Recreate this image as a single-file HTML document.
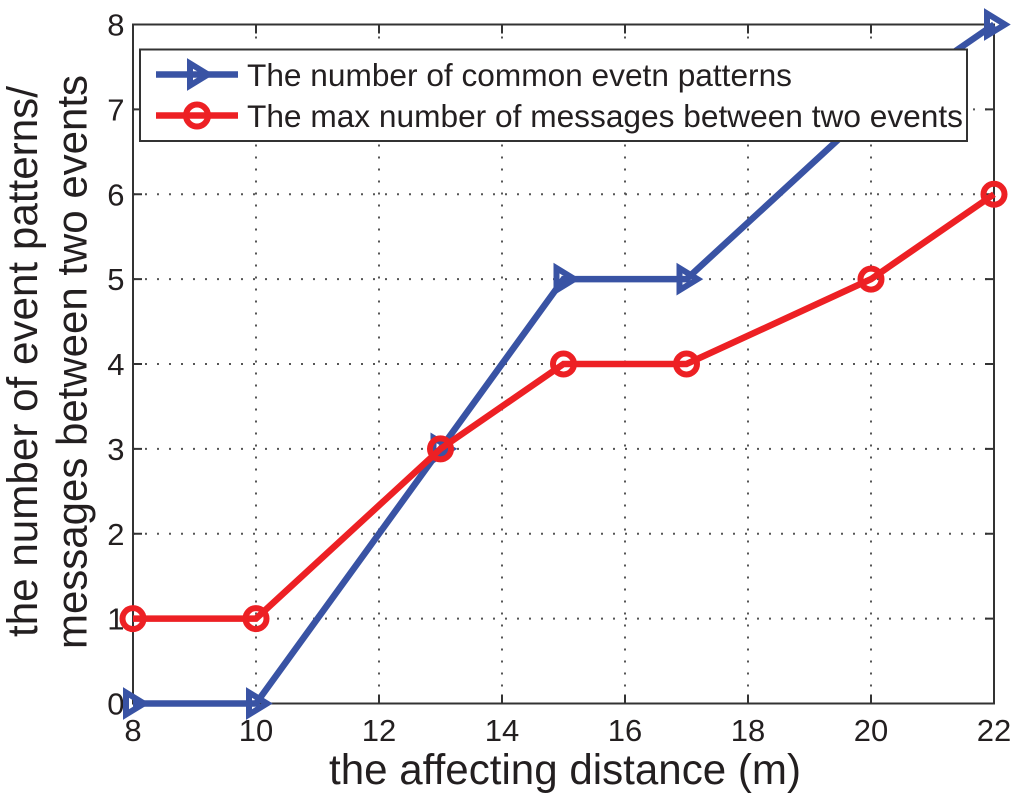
<!DOCTYPE html>
<html>
<head>
<meta charset="utf-8">
<style>
html,body{margin:0;padding:0;background:#fff;}
svg{display:block;}
text{font-family:"Liberation Sans",Arial,sans-serif;fill:#231f20;}
</style>
</head>
<body>
<svg id="chart" xmlns="http://www.w3.org/2000/svg" width="1024" height="801" viewBox="0 0 1024 801">
  <g id="grid"></g>
  <g id="ticks"></g>
  <rect x="133" y="24.5" width="861" height="679" fill="none" stroke="#333" stroke-width="2"/>
  <g id="xlabels"></g>
  <g id="ylabels"></g>
  <g id="series"></g>
  <text x="565" y="784" font-size="42.500" text-anchor="middle" textLength="472" lengthAdjust="spacingAndGlyphs">the affecting distance (m)</text>
  <text transform="translate(37,361.500) rotate(-90)" font-size="42.500" text-anchor="middle" textLength="551" lengthAdjust="spacingAndGlyphs">the number of event patterns/</text>
  <text transform="translate(86.500,362) rotate(-90)" font-size="42.500" text-anchor="middle" textLength="574" lengthAdjust="spacingAndGlyphs">messages between two events</text>
  <g>
    <rect x="140" y="49.500" width="827" height="91.500" fill="#fff" stroke="#333" stroke-width="2"/>
    <g>
      <line x1="156" y1="74.500" x2="238" y2="74.500" stroke="#3953a4" stroke-width="6.500"/>
      <path d="M190,63.500L190,85.500L208,74.500Z" fill="none" stroke="#3953a4" stroke-width="6"/>
      <text x="247" y="86" font-size="31.500" textLength="545" lengthAdjust="spacingAndGlyphs">The number of common evetn patterns</text>
    </g>
    <g>
      <line x1="156" y1="115.500" x2="238" y2="115.500" stroke="#ed2024" stroke-width="6.500"/>
      <circle cx="197" cy="115.500" r="11" fill="none" stroke="#ed2024" stroke-width="6"/>
      <text x="247" y="127" font-size="31.500" textLength="716" lengthAdjust="spacingAndGlyphs">The max number of messages between two events</text>
    </g>
  </g>
</svg>
<script>
var xCategories = [8, 10, 13, 15, 17, 20, 22];
var patternValues = [0, 0, 3, 5, 5, 7, 8];
var messageValues = [1, 1, 3, 4, 4, 5, 6];
var xTickValues = [8, 10, 12, 14, 16, 18, 20, 22];
var yTickValues = [0, 1, 2, 3, 4, 5, 6, 7, 8];

var NS = 'http://www.w3.org/2000/svg';
function sx(v) { return 133 + (v - 8) * (861 / 14); }
function sy(v) { return 703.5 - v * (679 / 8); }
function mk(tag, parent, props) {
  var el = document.createElementNS(NS, tag);
  for (var k in props) el.setAttribute(k, props[k]);
  parent.appendChild(el);
  return el;
}
var grid = document.getElementById('grid');
var ticks = document.getElementById('ticks');
var xl = document.getElementById('xlabels');
var yl = document.getElementById('ylabels');
var seriesG = document.getElementById('series');

xTickValues.forEach(function (v) {
  var x = sx(v);
  if (v > 8 && v < 22) {
    var g = mk('line', grid, {x1: x, y1: 24.5, x2: x, y2: 703.5, stroke: '#555', 'stroke-width': 2, 'stroke-dasharray': '2 10'});
    
    
    var t1 = mk('line', ticks, {x1: x, y1: 703.5, x2: x, y2: 694.5, stroke: '#333', 'stroke-width': 2});
    
    
    var t2 = mk('line', ticks, {x1: x, y1: 24.5, x2: x, y2: 33.5, stroke: '#333', 'stroke-width': 2});
    
    
  }
  var lab = mk('text', xl, {x: x, y: 741, 'font-size': 31, 'text-anchor': 'middle'});
  
  
  lab.textContent = v;
});

yTickValues.forEach(function (v) {
  var y = sy(v);
  if (v > 0 && v < 8) {
    var g = mk('line', grid, {x1: 133, y1: y, x2: 994, y2: y, stroke: '#555', 'stroke-width': 2, 'stroke-dasharray': '2 10'});
    
    
    var t1 = mk('line', ticks, {x1: 133, y1: y, x2: 142, y2: y, stroke: '#333', 'stroke-width': 2});
    
    
    var t2 = mk('line', ticks, {x1: 994, y1: y, x2: 985, y2: y, stroke: '#333', 'stroke-width': 2});
    
    
  }
  var lab = mk('text', yl, {x: 124.5, y: y + 11, 'font-size': 31, 'text-anchor': 'end'});
  
  
  lab.textContent = v;
});

function drawLine(vals, color, name) {
  var pts = vals.map(function (v, i) { return sx(xCategories[i]) + ',' + sy(v); }).join(' ');
  var pl = mk('polyline', seriesG, {points: pts, fill: 'none', stroke: color, 'stroke-width': 6.5, 'stroke-linejoin': 'miter'});
  
  
}

drawLine(patternValues, '#3953a4', 'series-common-patterns-line');
patternValues.forEach(function (v, i) {
  var x = sx(xCategories[i]), y = sy(v);
  var d = 'M' + (x - 7) + ',' + (y - 11) + 'L' + (x - 7) + ',' + (y + 11) + 'L' + (x + 11) + ',' + y + 'Z';
  var m = mk('path', seriesG, {d: d, fill: 'none', stroke: '#3953a4', 'stroke-width': 6});
  
  
});

drawLine(messageValues, '#ed2024', 'series-max-messages-line');
messageValues.forEach(function (v, i) {
  var m = mk('circle', seriesG, {cx: sx(xCategories[i]), cy: sy(v), r: 10.5, fill: 'none', stroke: '#ed2024', 'stroke-width': 6});
  
  
});
</script>
</body>
</html>
